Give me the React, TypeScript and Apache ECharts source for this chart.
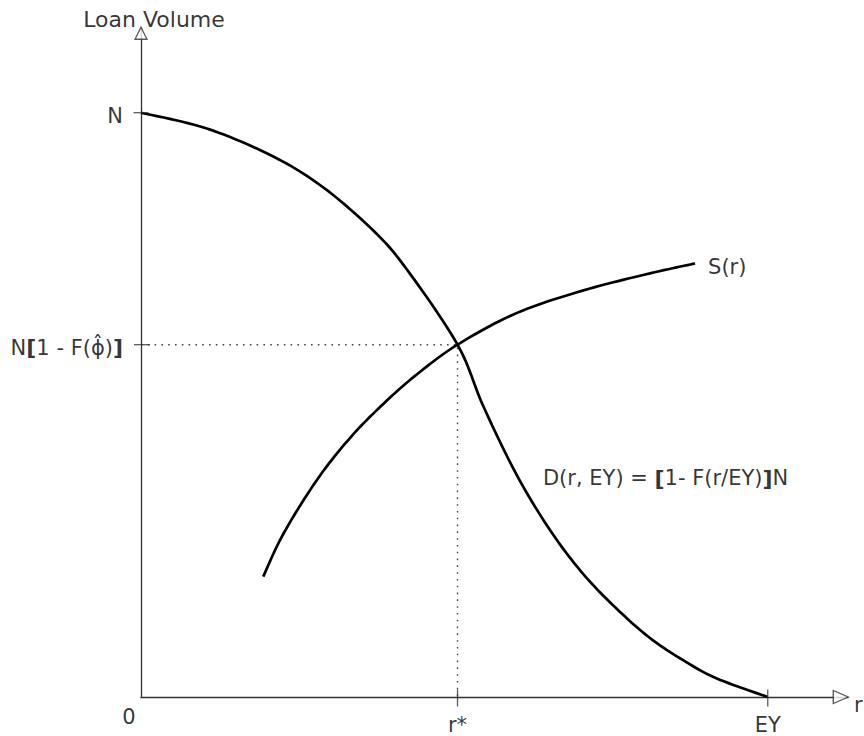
import React, { useEffect, useRef } from "react";
import * as echarts from "echarts";

// Axis extents (in units of EY for r, and N for loan volume)
const xMax = 1.128;
const yMax = 1.145;

// Key values
const rStar = 0.505;
const qStar = 0.603;
const EY = 1;
const N = 1;

// Demand curve D(r, EY) = [1 - F(r/EY)]N
const demandR = [0, 0.105, 0.211, 0.291, 0.371, 0.424, 0.505, 0.546, 0.599, 0.653, 0.706, 0.759, 0.812, 0.865, 0.918, 1.0];
const demandQ = [1.0, 0.973, 0.925, 0.872, 0.798, 0.732, 0.603, 0.498, 0.381, 0.285, 0.210, 0.151, 0.101, 0.063, 0.032, 0.0];

// Supply curve S(r)
const supplyR = [0.195, 0.227, 0.281, 0.334, 0.387, 0.440, 0.505, 0.599, 0.706, 0.812, 0.884];
const supplyQ = [0.206, 0.279, 0.372, 0.444, 0.502, 0.552, 0.603, 0.657, 0.696, 0.725, 0.742];

// Text labels
const yAxisName = "Loan Volume";
const xAxisName = "r";
const originLabel = "0";
const rStarLabel = "r*";
const eyLabel = "EY";
const nLabel = "N";
const qStarLabel = "N{b|[}1 - F(\u03D5\u0302){b|]}";
const supplyLabel = "S(r)";
const demandLabel = "D(r, EY) = {b|[}1- F(r/EY){b|]}N";

const FONT = "DejaVu Sans";
const FS = 21;

// Catmull-Rom smoothing in pixel space (rendering only)
function smoothPoints(pts: number[][], steps: number): number[][] {
  const out: number[][] = [];
  const n = pts.length;
  for (let i = 0; i < n - 1; i++) {
    const p0 = pts[Math.max(0, i - 1)];
    const p1 = pts[i];
    const p2 = pts[i + 1];
    const p3 = pts[Math.min(n - 1, i + 2)];
    for (let s = 0; s < steps; s++) {
      const t = s / steps;
      const t2 = t * t;
      const t3 = t2 * t;
      const f = (a: number, b: number, c: number, d: number) =>
        0.5 * (2 * b + (-a + c) * t + (2 * a - 5 * b + 4 * c - d) * t2 + (-a + 3 * b - 3 * c + d) * t3);
      out.push([f(p0[0], p1[0], p2[0], p3[0]), f(p0[1], p1[1], p2[1], p3[1])]);
    }
  }
  out.push(pts[n - 1]);
  return out;
}

function curveSeries(name: string, xs: number[], ys: number[]) {
  return {
    name,
    type: "custom",
    coordinateSystem: "cartesian2d",
    data: [[xs[0], ys[0]]],
    z: 3,
    silent: true,
    renderItem: (_params: any, api: any) => {
      const px = xs.map((x, i) => api.coord([x, ys[i]]));
      return {
        type: "polyline",
        shape: { points: smoothPoints(px, 12) },
        style: { stroke: "#000", lineWidth: 2.7, fill: null },
      };
    },
  };
}

export default function App() {
  const ref = useRef<HTMLDivElement>(null);

  useEffect(() => {
    if (!ref.current) return;
    const chart = echarts.init(ref.current, undefined, { renderer: "svg" });

    const lbl = (text: string, offset: number[], align: string = "center", size: number = FS) => ({
      show: true,
      position: "inside",
      formatter: text,
      offset,
      align,
      verticalAlign: "middle",
      color: "#000",
      fontFamily: FONT,
      fontSize: size,
      rich: {
        b: { fontWeight: "bold", fontFamily: FONT, fontSize: size + 1, color: "#000" },
      },
    });

    const sLast = supplyR.length - 1;

    const option: any = {
      animation: false,
      backgroundColor: "#fff",
      grid: { left: 141, right: 16, top: 28, bottom: 39, containLabel: false },
      xAxis: {
        type: "value",
        min: 0,
        max: xMax,
        axisLine: { show: true, lineStyle: { color: "#333", width: 1.3 } },
        axisTick: { show: false },
        axisLabel: { show: false },
        splitLine: { show: false },
      },
      yAxis: {
        type: "value",
        min: 0,
        max: yMax,
        axisLine: { show: true, lineStyle: { color: "#333", width: 1.3 } },
        axisTick: { show: false },
        axisLabel: { show: false },
        splitLine: { show: false },
      },
      series: [
        {
          name: "guides",
          type: "line",
          data: [[0, qStar], [rStar, qStar], [rStar, 0]],
          symbol: "none",
          lineStyle: { color: "#444", width: 1.4, type: [1.6, 5.2] },
          z: 1,
        },
        curveSeries("demand", demandR, demandQ),
        curveSeries("supply", supplyR, supplyQ),
        {
          name: "ticks",
          type: "scatter",
          clip: false,
          z: 4,
          itemStyle: { color: "#333" },
          data: [
            { value: [rStar, 0], symbol: "rect", symbolSize: [1.3, 17], symbolOffset: [0, 1] },
            { value: [EY, 0], symbol: "rect", symbolSize: [1.3, 17], symbolOffset: [0, 1] },
            { value: [0, N], symbol: "rect", symbolSize: [15, 1.3], symbolOffset: [0, 0] },
            { value: [0, qStar], symbol: "rect", symbolSize: [16, 1.3], symbolOffset: [1, 0] },
          ],
        },
        {
          name: "arrows",
          type: "scatter",
          clip: false,
          z: 5,
          itemStyle: { color: "#fff", borderColor: "#333", borderWidth: 1.3 },
          data: [
            { value: [1.1165, 0], symbol: "triangle", symbolSize: [13, 15], symbolRotate: -90 },
            { value: [0, 1.136], symbol: "triangle", symbolSize: [12, 12] },
          ],
        },
        {
          name: "labels",
          type: "scatter",
          clip: false,
          z: 6,
          symbol: "circle",
          symbolSize: 1,
          itemStyle: { color: "rgba(0,0,0,0)" },
          data: [
            { value: [0, yMax], label: lbl(yAxisName, [13, -9], "center", 22) },
            { value: [xMax, 0], label: lbl(xAxisName, [6, 8], "left") },
            { value: [0, 0], label: lbl(originLabel, [-12, 20]) },
            { value: [rStar, 0], label: lbl(rStarLabel, [0, 27.5]) },
            { value: [EY, 0], label: lbl(eyLabel, [0, 27.5]) },
            { value: [0, N], label: lbl(nLabel, [-18, 3], "right") },
            { value: [0, qStar], label: lbl(qStarLabel, [-18, 3], "right") },
            { value: [supplyR[sLast], supplyQ[sLast]], label: lbl(supplyLabel, [13, 4], "left") },
            { value: [demandR[8], demandQ[8]], label: lbl(demandLabel, [26.5, 4], "left") },
          ],
        },
      ],
    };

    chart.setOption(option);
    return () => chart.dispose();
  }, []);

  return (
    <div
      ref={ref}
      style={{ position: "absolute", left: 0, top: 0, width: 864, height: 736 }}
    />
  );
}
